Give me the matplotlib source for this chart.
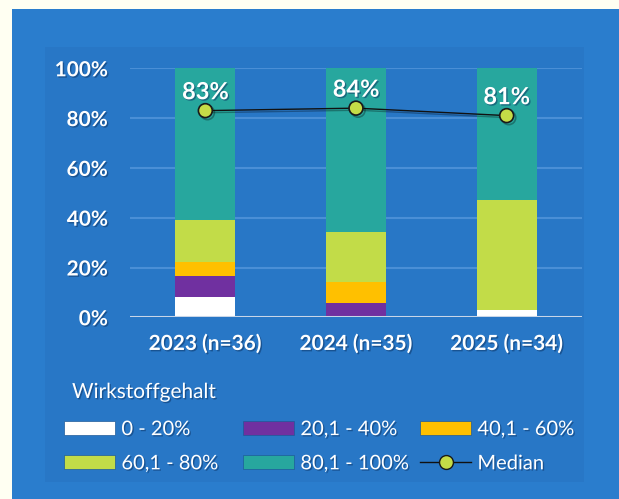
import matplotlib
matplotlib.use("Agg")
import matplotlib.pyplot as plt
import matplotlib.patheffects as pe
from matplotlib.patches import Rectangle, Patch
from matplotlib.lines import Line2D
import numpy as np

categories = ["2023 (n=36)", "2024 (n=35)", "2025 (n=34)"]
series_names = ["0 - 20%", "20,1 - 40%", "40,1 - 60%", "60,1 - 80%", "80,1 - 100%"]
v_0_20 = [3/36*100, 0.0, 1/34*100]
v_20_40 = [3/36*100, 2/35*100, 0.0]
v_40_60 = [2/36*100, 3/35*100, 0.0]
v_60_80 = [6/36*100, 7/35*100, 15/34*100]
v_80_100 = [22/36*100, 23/35*100, 18/34*100]
median = [83, 84, 81]
median_labels = ["83%", "84%", "81%"]
yticks = [0, 20, 40, 60, 80, 100]
ytick_labels = ["0%", "20%", "40%", "60%", "80%", "100%"]
legend_title = "Wirkstoffgehalt"
median_name = "Median"

colors = ["#FFFFFF", "#7030A0", "#FFC000", "#C2DC48", "#27A79E"]
outer_bg = "#FFFFF2"
panel_bg = "#2A7DCD"
inner_bg = "#2877C6"
marker_col = "#C5DC47"

FONT = "Lato"
W, H = 619, 499
fig = plt.figure(figsize=(W/100, H/100), dpi=100)
fig.patch.set_facecolor(outer_bg)

def fx(px):
    return px / W
def fy(py):
    return 1 - py / H

# panel and inner area
fig.patches.append(Rectangle((fx(12), 0), 1 - fx(12), fy(9), transform=fig.transFigure,
                             facecolor=panel_bg, edgecolor="none", zorder=-10))
fig.patches.append(Rectangle((fx(45), fy(482)), fx(584 - 45), fy(47) - fy(482),
                             transform=fig.transFigure, facecolor=inner_bg,
                             edgecolor="none", zorder=-9))

ax = fig.add_axes([fx(130), fy(317.3), fx(582 - 130), fy(68.3) - fy(317.3)])
ax.set_facecolor("none")
x = np.arange(len(categories))
bottom = np.zeros(len(categories))
for vals, col, name in zip([v_0_20, v_20_40, v_40_60, v_60_80, v_80_100], colors, series_names):
    ax.bar(x, vals, 0.4, bottom=bottom, color=col, edgecolor="none", zorder=3, label=name)
    bottom += np.array(vals)

ax.set_xlim(-0.5, 2.5)
ax.set_ylim(0, 100)
ax.set_yticks(yticks)
ax.set_yticklabels(ytick_labels)
ax.set_xticks(x)
ax.set_xticklabels(categories)
for y in yticks[1:]:
    ax.axhline(y, color="#4A8FD6", lw=1.5, zorder=1)
ax.axhline(0, color="#C8D6E8", lw=2.2, zorder=4)
for s in ax.spines.values():
    s.set_visible(False)
ax.tick_params(length=0)
txt_shadow = [pe.withSimplePatchShadow(offset=(1, -1), shadow_rgbFace="#0A3060", alpha=0.5)]
for lab in ax.get_yticklabels():
    lab.set_fontfamily(FONT); lab.set_fontweight("bold"); lab.set_fontsize(15)
    lab.set_color("white"); lab.set_path_effects(txt_shadow)
for lab in ax.get_xticklabels():
    lab.set_fontfamily(FONT); lab.set_fontweight("bold"); lab.set_fontsize(15)
    lab.set_color("white"); lab.set_path_effects(txt_shadow)
ax.tick_params(axis="y", pad=16)
ax.tick_params(axis="x", pad=12)

ax.plot(x, median, color="#111111", lw=1, zorder=5, marker="o", markersize=10,
        markerfacecolor=marker_col, markeredgecolor="#1A1A1A", markeredgewidth=1.2,
        path_effects=[pe.SimpleLineShadow(offset=(1.5, -1.5), alpha=0.3), pe.Normal()])
for xi, m, lab in zip(x, median, median_labels):
    ax.text(xi, m + 7.6, lab, ha="center", va="center", color="white", fontsize=17,
            fontweight="bold", fontfamily=FONT, zorder=6, path_effects=txt_shadow)

# legend
fig.text(fx(72), fy(392), legend_title, color="white", fontsize=15, fontfamily=FONT,
         va="center", ha="left", path_effects=txt_shadow)
h = [Patch(facecolor=c, edgecolor="#1E5A99", lw=0.5) for c in colors]
hm = Line2D([], [], color="#111111", lw=1, marker="o", markersize=10,
            markerfacecolor=marker_col, markeredgecolor="#1A1A1A")
groups = [([h[0], h[3]], [series_names[0], series_names[3]], 64),
          ([h[1], h[4]], [series_names[1], series_names[4]], 243),
          ([h[2], hm], [series_names[2], median_name], 420)]
for hs, ls, xpx in groups:
    leg = fig.legend(hs, ls, loc="upper left", bbox_to_anchor=(fx(xpx), fy(421)),
                     frameon=False, ncol=1, borderpad=0, borderaxespad=0,
                     handlelength=2.55, handleheight=0.7, handletextpad=0.3,
                     labelspacing=0.85, prop={"family": FONT, "size": 14.5})
    for t in leg.get_texts():
        t.set_color("white")
        t.set_path_effects(txt_shadow)

fig.savefig("out.png", dpi=100, facecolor=fig.get_facecolor())
